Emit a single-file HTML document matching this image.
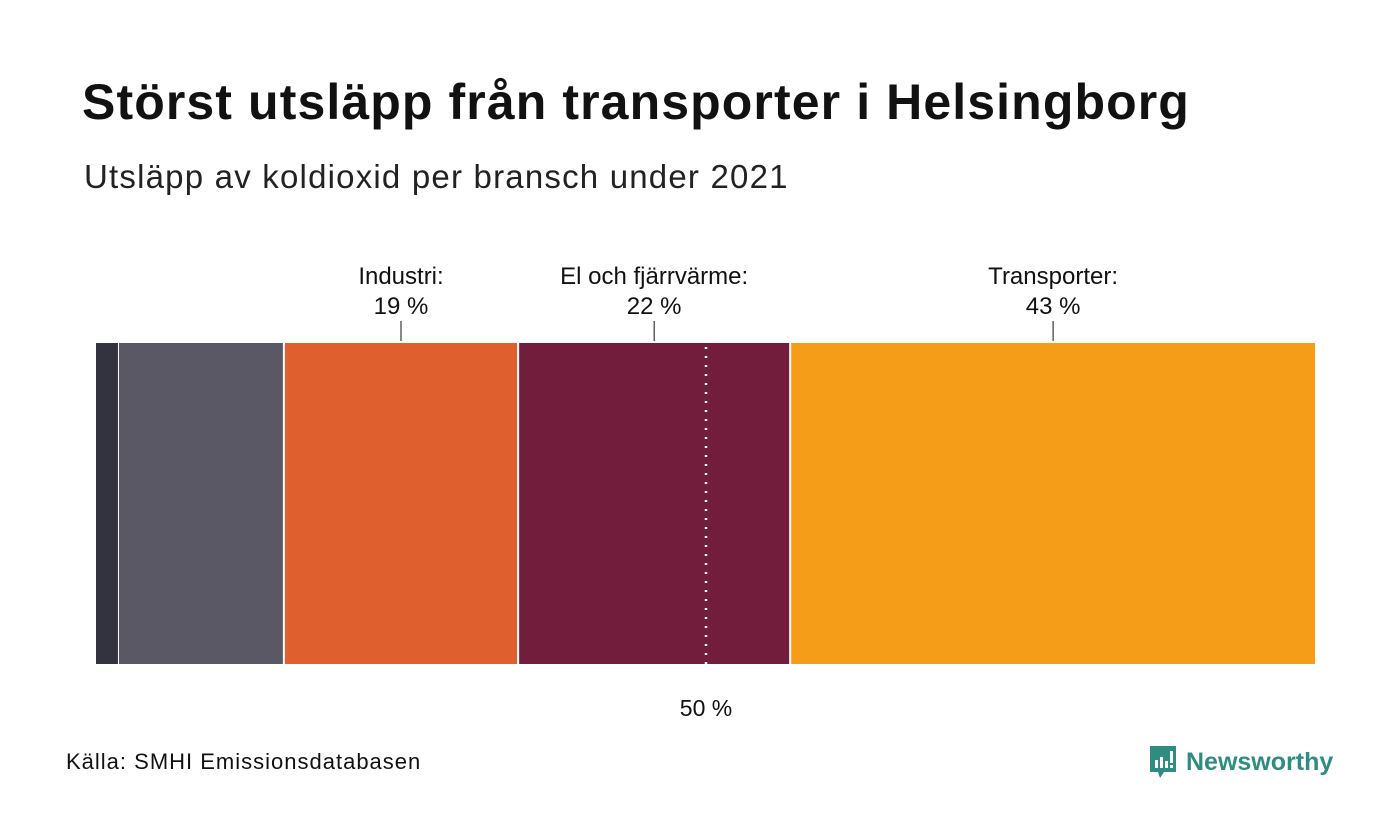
<!DOCTYPE html>
<html><head><meta charset="utf-8"><style>
body{margin:0;width:1400px;height:840px;background:#fff;font-family:"Liberation Sans",sans-serif;overflow:hidden;position:relative}
.t{position:absolute;margin:0;white-space:nowrap}
</style></head><body>
<h1 class="t" style="left:82px;top:73px;font-size:50px;letter-spacing:1.1px;font-weight:bold;color:#111">Störst utsläpp från transporter i Helsingborg</h1>
<div class="t" style="left:84px;top:158px;font-size:33px;letter-spacing:1.2px;color:#222">Utsläpp av koldioxid per bransch under 2021</div>
<svg id="c" width="1400" height="840" style="position:absolute;left:0;top:0"></svg>
<div class="t" style="left:66px;top:749px;font-size:22px;letter-spacing:1px;color:#111">Källa: SMHI Emissionsdatabasen</div>
<div class="t" style="left:1148px;top:744px;display:flex;align-items:center">
<svg width="30" height="36" viewBox="0 0 30 36"><path d="M2 2h26v26H16l-4 6-2-6H2z" fill="#2f8c80"/><rect x="7" y="16" width="3" height="8" fill="#fff"/><rect x="12" y="13" width="3" height="11" fill="#fff"/><rect x="17" y="17" width="3" height="7" fill="#fff"/><rect x="22" y="7" width="3" height="12" fill="#fff"/><rect x="22" y="21" width="3" height="3" fill="#fff"/></svg>
<span style="font-size:25px;font-weight:bold;color:#2f8c80;margin-left:8px">Newsworthy</span></div>
<script>
const categories=["Övrigt 1","Övrigt 2","Industri","El och fjärrvärme","Transporter"];
const values=[1.8,13.6,19.2,22.3,43.1];
const labels=["","","19 %","22 %","43 %"];
const colors=["#33323f","#5b5866","#e05f2e","#731d3d","#f59d18"];
const svg=document.getElementById('c');const NS='http://www.w3.org/2000/svg';
const x0=96,x1=1316,y0=343,y1=664;
const total=values.reduce((a,b)=>a+b,0);
const xs=v=>x0+(x1-x0)*v/total;
function mk(t,a){const e=document.createElementNS(NS,t);for(const k in a)e.setAttribute(k,a[k]);svg.appendChild(e);return e;}
let cum=0;
values.forEach((v,i)=>{
const a=xs(cum),b=xs(cum+v);cum+=v;
const r=mk('rect',{x:a+(i?1:0),y:y0,width:b-a-(i?2:0),height:y1-y0,fill:colors[i]});


if(labels[i]){const m=(a+b)/2;
const l=mk('line',{x1:m,x2:m,y1:321,y2:341,stroke:'#111','stroke-width':1});


const t=mk('text',{x:m,y:284,'text-anchor':'middle','font-size':24,fill:'#111'});


t.innerHTML='<tspan x="'+m+'">'+categories[i]+':</tspan><tspan x="'+m+'" dy="30">'+labels[i]+'</tspan>';}
});
const h=xs(total/2);
const d=mk('line',{x1:h,x2:h,y1:y0+4,y2:y1,stroke:'#fff','stroke-width':2.5,'stroke-dasharray':'2 7'});


const ht=mk('text',{x:h,y:716,'text-anchor':'middle','font-size':23,fill:'#111'});


ht.textContent='50 %';
</script>
</body></html>
